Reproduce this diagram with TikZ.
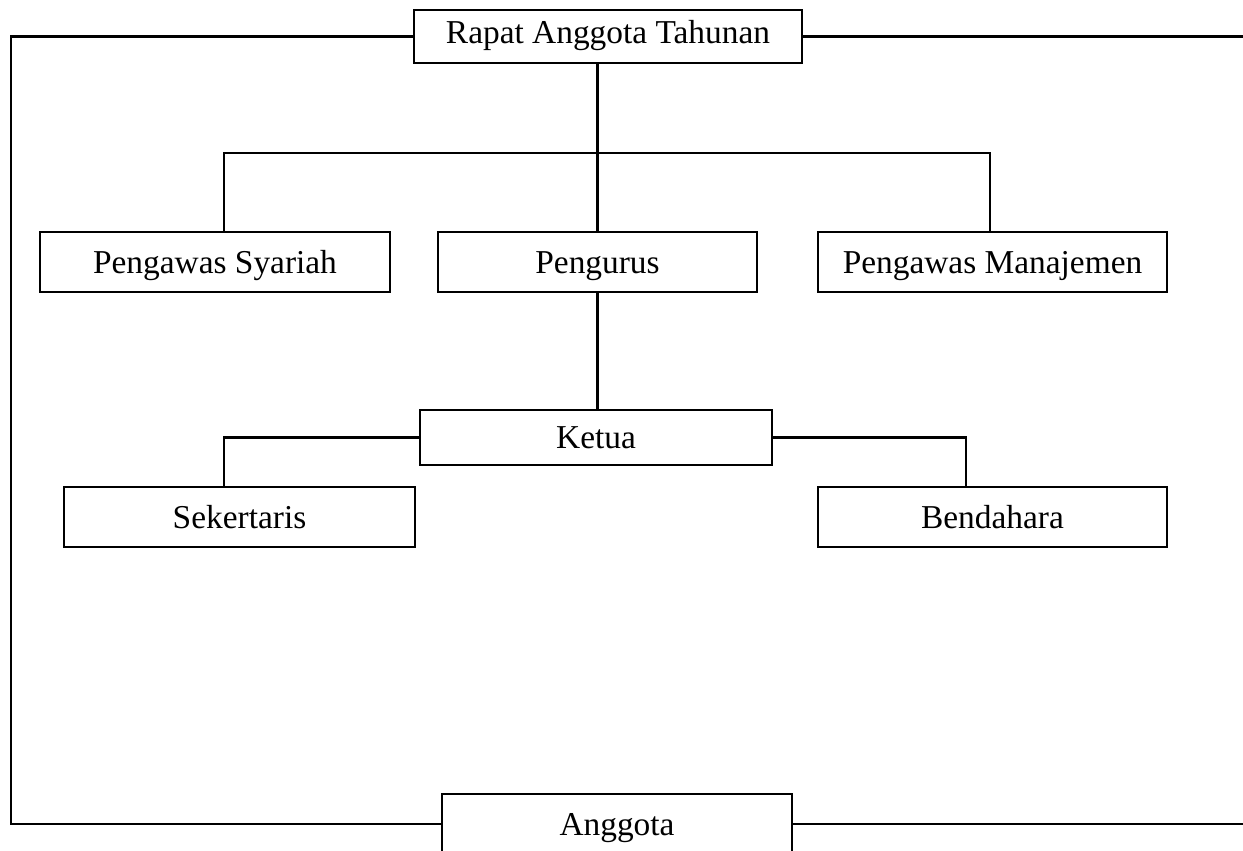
\documentclass[tikz,border=0pt]{standalone}
\usepackage{fontspec}
\setmainfont{Liberation Serif}
\usepackage{tikz}
\usetikzlibrary{positioning}

\tikzset{
    orgbox/.style={draw, rectangle, line width=1.2pt, minimum height=1.2cm, inner sep=0pt, text height=0.44cm, text depth=0pt, font=\fontsize{19}{23}\selectfont},
    orgline/.style={line width=1.2pt}
}

\begin{document}
\begin{tikzpicture}
    \useasboundingbox (0,0) rectangle (24.86,-17);

    \node[orgbox, minimum width=7.76cm, minimum height=1.06cm, text height=0.26cm] (rat) at (12.16,-0.73) {Rapat Anggota Tahunan};

    \node[orgbox, minimum width=7.0cm] (syariah) at (4.30,-5.24) {Pengawas Syariah};
    \node[orgbox, minimum width=6.38cm] (pengurus) at (11.95,-5.24) {Pengurus};
    \node[orgbox, minimum width=6.98cm] (manajemen) at (19.85,-5.24) {Pengawas Manajemen};

    \node[orgbox, minimum width=7.04cm, minimum height=1.1cm] (ketua) at (11.92,-8.75) {Ketua};

    \node[orgbox, minimum width=7.02cm] (sekertaris) at (4.79,-10.34) {Sekertaris};
    \node[orgbox, minimum width=6.98cm] (bendahara) at (19.85,-10.34) {Bendahara};

    \node[orgbox, minimum width=7.0cm] (anggota) at (12.34,-16.48) {Anggota};

    % free ends of the lines
    \coordinate (lx) at (0.22,0);
    \coordinate (rx) at (24.86,0);
    \coordinate (bus) at (0,-3.06);
    \coordinate (dropl) at (4.48,0);
    \coordinate (dropr) at (19.80,0);
    \coordinate (subl) at (4.48,0);
    \coordinate (subr) at (19.32,0);

    % outer loop
    \draw[orgline] (rat.west) -- (rat.west -| lx) |- (anggota.west);
    \draw[orgline] (rat.east) -- (rat.east -| rx);
    \draw[orgline] (anggota.east) -- (anggota.east -| rx);

    % top level
    \draw[orgline] (pengurus.north |- rat.south) -- (pengurus.north);
    \draw[orgline] (syariah.north -| dropl) -- (bus -| dropl) -- (bus -| dropr) -- (manajemen.north -| dropr);

    % pengurus
    \draw[orgline] (pengurus.south) -- (ketua.north -| pengurus.south);
    \draw[orgline] (ketua.west) -| (sekertaris.north -| subl);
    \draw[orgline] (ketua.east) -| (bendahara.north -| subr);
\end{tikzpicture}
\end{document}
